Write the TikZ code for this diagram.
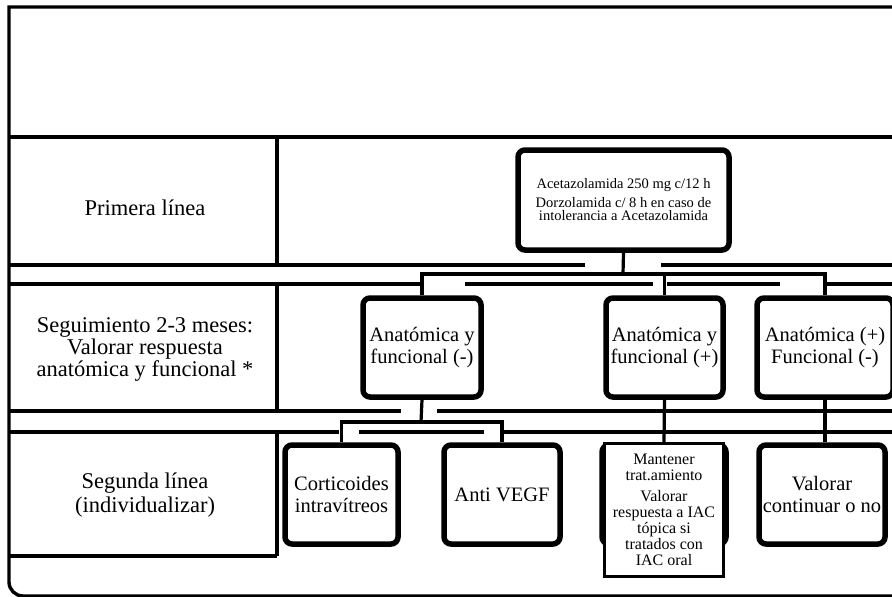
\documentclass[tikz,border=0pt]{standalone}
\usepackage{fontspec}
\setmainfont{Liberation Serif}
\begin{document}
\begin{tikzpicture}[x=1pt,y=-1pt,
    rule/.style={line width=3.4pt},
    link/.style={line width=3.2pt},
    flowbox/.style={draw,line width=5.5pt,rounded corners=7pt,align=center,
      inner sep=1pt,fill=white,font=\fontsize{20.5}{21.5}\selectfont},
    rowlabel/.style={align=center,font=\fontsize{22.5}{22}\selectfont}]
\useasboundingbox (0,0) rectangle (892,597);
\clip (0,0) rectangle (892,597);

% frame and rows
\draw[rule] (900,7) -- (9,7) -- (9,582) arc[start angle=180,end angle=90,radius=14] -- (900,596);
\draw[rule] (9,137) -- (900,137);
\draw[rule] (9,265) -- (585,265) (661,265) -- (900,265);
\draw[rule] (9,284) -- (421,284) (465,284) -- (653,284) (667,284) -- (780,284) (825,284) -- (900,284);
\draw[rule] (9,411) -- (401,411) (437,411) -- (900,411);
\draw[rule] (9,432) -- (339,432) (359,432) -- (484,432) (503,432) -- (900,432);
\draw[rule] (9,556) -- (277,556);
\draw[rule] (277,137) -- (277,265) (277,284) -- (277,411) (277,432) -- (277,556);

% row labels
\node[rowlabel] (first) at (145,208) {Primera línea};
\node[rowlabel] (follow) at (145,349) {Seguimiento 2-3 meses:\\Valorar respuesta\\anatómica y funcional *};
\node[rowlabel,font=\fontsize{22.5}{23.5}\selectfont] (second) at (145,495) {Segunda línea\\(individualizar)};

% boxes
\node[flowbox,minimum width=211pt,minimum height=100pt,font=\fontsize{14.5}{13.5}\selectfont] (top) at (623.5,200)
  {Acetazolamida 250 mg c/12 h\\[5pt]Dorzolamida c/ 8 h en caso de\\intolerancia a Acetazolamida};
\node[flowbox,minimum width=118pt,minimum height=99pt] (an1) at (422,347.5) {Anatómica y\\funcional (-)};
\node[flowbox,minimum width=117pt,minimum height=99pt] (an2) at (664.5,347.5) {Anatómica y\\funcional (+)};
\node[flowbox,minimum width=136pt,minimum height=99pt] (an3) at (825,347.5) {Anatómica (+)\\Funcional (-)};
\node[flowbox,minimum width=113pt,minimum height=99pt] (cort) at (341.5,494.5) {Corticoides\\intravítreos};
\node[flowbox,minimum width=116pt,minimum height=99pt] (antiv) at (502,494.5) {Anti VEGF};
\draw[line width=5.5pt,rounded corners=7pt] (602,445) rectangle (726,544);
\node[draw,line width=2.6pt,fill=white,align=center,inner sep=1pt,minimum width=119pt,minimum height=133pt,
  font=\fontsize{16}{16}\selectfont] (mant) at (664,510)
  {Mantener\\trat.amiento\\[5pt]Valorar\\respuesta a IAC\\tópica si\\tratados con\\IAC oral};
\node[flowbox,minimum width=126pt,minimum height=99pt] (valor) at (822,494.5) {Valorar\\continuar o no};

% connectors
\coordinate (j1) at (623,274);
\draw[link] (top.south) -- (j1);
\draw[link] (j1) -| (an1.north);
\draw[link] (j1) -| (an3.north);
\draw[link] (j1 -| an2.north) -- (an2.north);
\coordinate (j2) at (421,422);
\draw[link] (an1.south) -- (j2);
\draw[link] (j2) -| (cort.north);
\draw[link] (j2) -| (antiv.north);
\draw[link] (an2.south) -- (mant.north);
\draw[link] (an3.south) -- (an3.south |- valor.north);
\end{tikzpicture}
\end{document}
